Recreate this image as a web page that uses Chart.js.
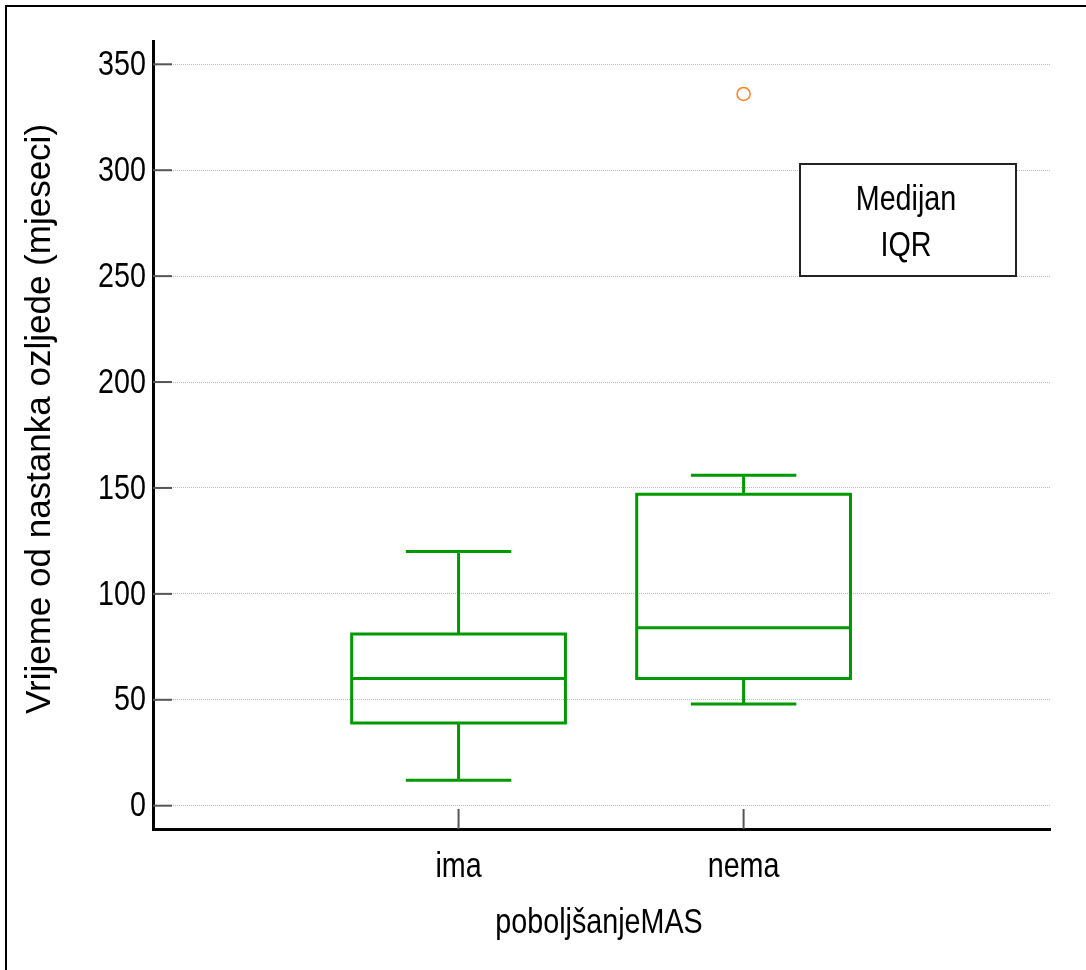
<!DOCTYPE html>
<html>
<head>
<meta charset="utf-8">
<script src="https://cdn.jsdelivr.net/npm/chart.js@4/dist/chart.umd.min.js"></script>
<style>
    html, body { margin: 0; padding: 0; background: #fff; }
    #wrap { width: 1086px; height: 970px; }
</style>
</head>
<body>
<div id="wrap"><canvas id="boxChart"></canvas></div>
<script>
// data
const categories = ["ima", "nema"];
const categoryPos = [1, 2];
const minVals = [12, 48];
const q1Vals = [39, 60];
const medianVals = [60, 84];
const q3Vals = [81, 147];
const maxVals = [120, 156];
const outlierVals = [[], [336]];
const yTicks = [0, 50, 100, 150, 200, 250, 300, 350];

const yTitle = "Vrijeme od nastanka ozljede (mjeseci)";
const xTitle = "poboljšanjeMAS";
const legendLines = ["Medijan", "IQR"];

const font = '"Liberation Sans Narrow", "Liberation Sans", Arial, sans-serif';
const green = "#009a00";
const narrow = 0.82; // no narrow face installed, squeeze the regular one

// outliers as scatter points
const outlierPoints = [];
outlierVals.forEach((vals, i) => {
    vals.forEach(v => outlierPoints.push({ x: categoryPos[i], y: v }));
});

// text squeezed horizontally to look like Arial Narrow
function narrowText(ctx, text, x, y, align) {
    ctx.save();
    ctx.translate(x, y);
    ctx.scale(narrow, 1);
    ctx.textAlign = align;
    ctx.fillText(text, 0, 0);
    ctx.restore();
}

// draws frame, boxes, inward ticks, labels, titles and legend box
const boxPlugin = {
    id: "boxPlugin",
    beforeDraw(chart) {
        const ctx = chart.ctx;
        ctx.save();
        ctx.fillStyle = "#fff";
        ctx.fillRect(0, 0, chart.width, chart.height);
        // frame (top and left only)
        ctx.strokeStyle = "#000";
        ctx.lineWidth = 2;
        ctx.beginPath();
        ctx.moveTo(6, chart.height);
        ctx.lineTo(6, 6);
        ctx.lineTo(chart.width, 6);
        ctx.stroke();
        ctx.restore();
    },
    afterDatasetsDraw(chart) {
        const ctx = chart.ctx;
        const x = chart.scales.x;
        const y = chart.scales.y;
        const area = chart.chartArea;

        ctx.save();
        // inward ticks
        ctx.strokeStyle = "#555";
        ctx.lineWidth = 2;
        y.ticks.forEach(t => {
            const py = y.getPixelForValue(t.value);
            ctx.beginPath();
            ctx.moveTo(area.left, py);
            ctx.lineTo(area.left + 19, py);
            ctx.stroke();
        });
        x.ticks.forEach(t => {
            const px = x.getPixelForValue(t.value);
            ctx.beginPath();
            ctx.moveTo(px, area.bottom);
            ctx.lineTo(px, area.bottom - 20);
            ctx.stroke();
        });

        // boxes and whiskers
        ctx.strokeStyle = green;
        ctx.lineWidth = 3;
        categoryPos.forEach((p, i) => {
            const cx = x.getPixelForValue(p);
            const bl = x.getPixelForValue(p - 0.375);
            const br = x.getPixelForValue(p + 0.375);
            const cl = x.getPixelForValue(p - 0.185);
            const cr = x.getPixelForValue(p + 0.185);
            const yMin = y.getPixelForValue(minVals[i]);
            const yQ1 = y.getPixelForValue(q1Vals[i]);
            const yMed = y.getPixelForValue(medianVals[i]);
            const yQ3 = y.getPixelForValue(q3Vals[i]);
            const yMax = y.getPixelForValue(maxVals[i]);

            ctx.beginPath();
            ctx.rect(bl, yQ3, br - bl, yQ1 - yQ3);
            ctx.moveTo(bl, yMed);
            ctx.lineTo(br, yMed);
            ctx.moveTo(cx, yQ3);
            ctx.lineTo(cx, yMax);
            ctx.moveTo(cl, yMax);
            ctx.lineTo(cr, yMax);
            ctx.moveTo(cx, yQ1);
            ctx.lineTo(cx, yMin);
            ctx.moveTo(cl, yMin);
            ctx.lineTo(cr, yMin);
            ctx.stroke();
        });

        // tick labels
        ctx.fillStyle = "#000";
        ctx.font = "35px " + font;
        ctx.textBaseline = "middle";
        y.ticks.forEach(t => {
            narrowText(ctx, String(t.value), area.left - 7, y.getPixelForValue(t.value) + 1, "right");
        });
        ctx.textBaseline = "alphabetic";
        x.ticks.forEach(t => {
            const label = categories[categoryPos.indexOf(t.value)];
            narrowText(ctx, label, x.getPixelForValue(t.value), 877, "center");
        });

        // legend box
        ctx.fillStyle = "#fff";
        ctx.fillRect(800, 164, 216, 112);
        ctx.strokeStyle = "#222";
        ctx.lineWidth = 2;
        ctx.strokeRect(800, 164, 216, 112);
        ctx.fillStyle = "#000";
        narrowText(ctx, legendLines[0], 906, 210, "center");
        narrowText(ctx, legendLines[1], 906, 256, "center");

        // axis titles
        narrowText(ctx, xTitle, 599, 933, "center");
        ctx.translate(40, 419);
        ctx.rotate(-Math.PI / 2);
        ctx.textAlign = "center";
        ctx.textBaseline = "middle";
        ctx.fillText(yTitle, 0, 0);
        ctx.restore();
    }
};

Chart.defaults.font.family = font;
Chart.defaults.font.size = 35;
Chart.defaults.color = "#000";

const chart = new Chart(document.getElementById("boxChart"), {
    type: "scatter",
    data: {
        datasets: [{
            label: "outliers",
            data: outlierPoints,
            pointStyle: "circle",
            pointRadius: 6.5,
            borderColor: "#ff7f27",
            backgroundColor: "rgba(0,0,0,0)",
            borderWidth: 1.5
        }]
    },
    options: {
        responsive: true,
        maintainAspectRatio: false,
        animation: false,
        layout: { padding: { top: 41, right: 36, left: 0, bottom: 0 } },
        plugins: {
            legend: { display: false },
            tooltip: { enabled: false }
        },
        scales: {
            x: {
                type: "linear",
                min: -0.072,
                max: 3.075,
                afterBuildTicks: scale => {
                    scale.ticks = categoryPos.map(v => ({ value: v }));
                },
                afterFit: scale => { scale.height = 141; },
                ticks: { display: false },
                grid: { display: false, drawTicks: false },
                border: { display: true, color: "#000", width: 3 }
            },
            y: {
                min: -11,
                max: 361,
                afterBuildTicks: scale => {
                    scale.ticks = yTicks.map(v => ({ value: v }));
                },
                afterFit: scale => { scale.width = 153; },
                ticks: { display: false },
                grid: { color: "#bdbdbd", lineWidth: 1, drawTicks: false },
                border: { display: true, color: "#000", width: 3, dash: [1, 1] }
            }
        }
    },
    plugins: [boxPlugin]
});
</script>
</body>
</html>
